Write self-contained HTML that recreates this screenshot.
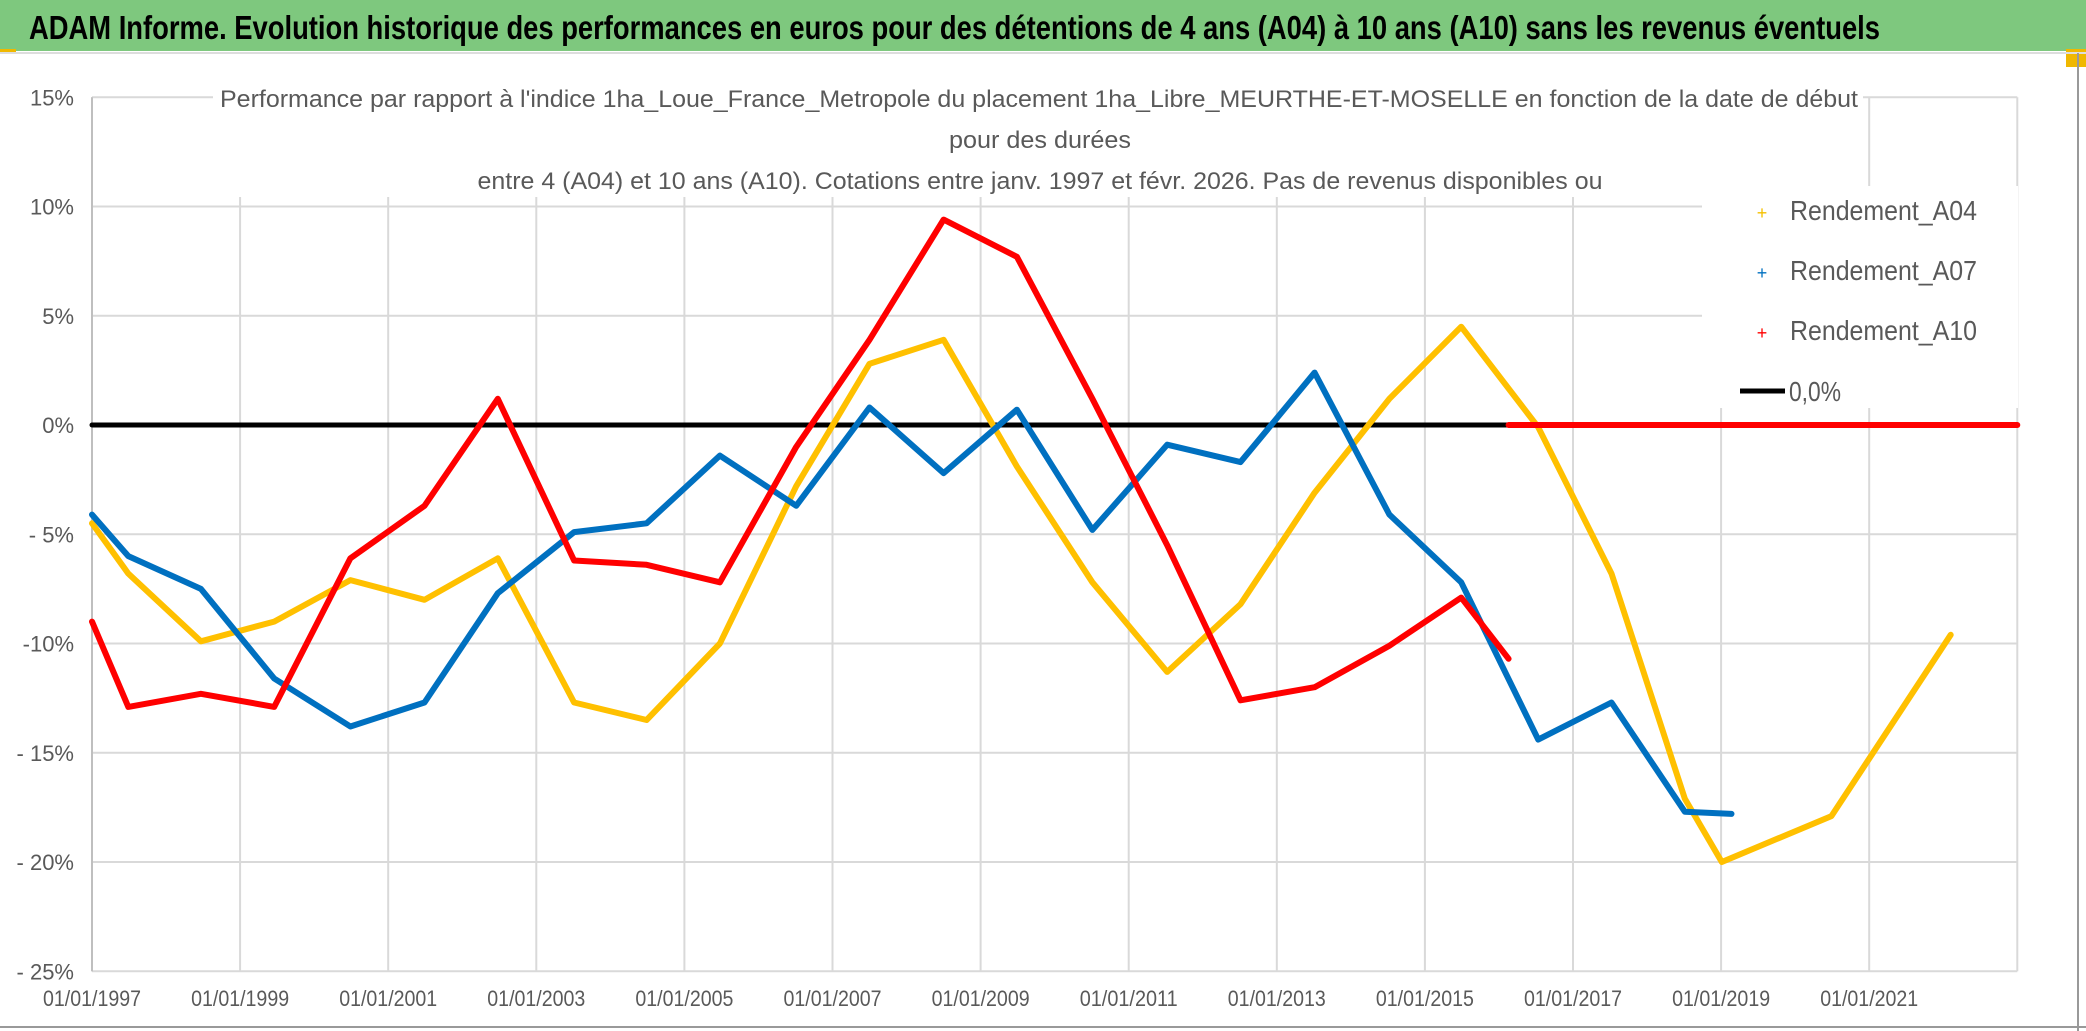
<!DOCTYPE html>
<html><head><meta charset="utf-8"><style>
html,body{margin:0;padding:0;background:#fff;}
svg{display:block;font-family:"Liberation Sans",sans-serif;}
</style></head><body>
<svg id="chart" width="2086" height="1031" viewBox="0 0 2086 1031" xmlns="http://www.w3.org/2000/svg">
<rect x="0" y="0" width="2086" height="1031" fill="#fff"/>
<rect x="0" y="0" width="2086" height="51" fill="#7ec87e"/>
<rect x="0" y="49" width="16" height="4" fill="#f0b800"/>
<rect x="2066" y="49" width="20" height="18" fill="#f0b800"/>
<line x1="0" y1="53" x2="2086" y2="53" stroke="#ddd" stroke-width="2"/>
<line x1="2078" y1="53" x2="2078" y2="1031" stroke="#999" stroke-width="2"/>
<line x1="0" y1="1027" x2="2086" y2="1027" stroke="#999" stroke-width="2"/>
<text x="29" y="39" font-size="33" font-weight="bold" fill="#000" textLength="1851" lengthAdjust="spacingAndGlyphs">ADAM Informe. Evolution historique des performances en euros pour des détentions de 4 ans (A04) à 10 ans (A10) sans les revenus éventuels</text>
<g id="grid"></g>
<rect x="213" y="75" width="1650" height="122" fill="#fff"/>
<rect x="1702" y="186" width="316" height="222" fill="#fff"/>
<g fill="#595959" font-size="24">
<text x="220" y="107" textLength="1638" lengthAdjust="spacingAndGlyphs">Performance par rapport à l'indice 1ha_Loue_France_Metropole  du placement 1ha_Libre_MEURTHE-ET-MOSELLE en fonction de la date de début</text>
<text x="1040" y="148" text-anchor="middle" textLength="182" lengthAdjust="spacingAndGlyphs">pour des durées</text>
<text x="1040" y="189" text-anchor="middle" textLength="1125" lengthAdjust="spacingAndGlyphs">entre 4 (A04) et 10 ans (A10). Cotations entre janv. 1997 et févr. 2026. Pas de revenus disponibles ou</text>
</g>
<g id="axes"></g>
<g id="series"></g>
<g font-size="28" fill="#595959">
<g><text x="1762" y="219" fill="#f5c000" font-size="18" text-anchor="middle">+</text><text x="1790" y="220" textLength="187" lengthAdjust="spacingAndGlyphs">Rendement_A04</text></g>
<g><text x="1762" y="279" fill="#0070c0" font-size="18" text-anchor="middle">+</text><text x="1790" y="280" textLength="187" lengthAdjust="spacingAndGlyphs">Rendement_A07</text></g>
<g><text x="1762" y="339" fill="#ff0000" font-size="18" text-anchor="middle">+</text><text x="1790" y="340" textLength="187" lengthAdjust="spacingAndGlyphs">Rendement_A10</text></g>
<g><line x1="1740" y1="391" x2="1785" y2="391" stroke="#000" stroke-width="5"/><text x="1789" y="401" textLength="52" lengthAdjust="spacingAndGlyphs">0,0%</text></g>
</g>
</svg>
<script>
const yTicks = [15, 10, 5, 0, -5, -10, -15, -20, -25];
const yTickLabels = ["15%", "10%", "5%", "0%", "- 5%", "-10%", "- 15%", "- 20%", "- 25%"];
const xTicks = [1997, 1999, 2001, 2003, 2005, 2007, 2009, 2011, 2013, 2015, 2017, 2019, 2021, 2023];
const xTickLabels = ["01/01/1997","01/01/1999","01/01/2001","01/01/2003","01/01/2005","01/01/2007","01/01/2009","01/01/2011","01/01/2013","01/01/2015","01/01/2017","01/01/2019","01/01/2021",""];
const a04Dates = [1997.0,1997.49,1998.47,1999.46,2000.49,2001.49,2002.48,2003.51,2004.49,2005.48,2006.51,2007.5,2008.5,2009.49,2010.51,2011.52,2012.51,2013.51,2014.52,2015.49,2016.53,2017.52,2018.51,2019.01,2020.49,2022.1];
const a04Values = [-4.5,-6.8,-9.9,-9.0,-7.1,-8.0,-6.1,-12.7,-13.5,-10.0,-2.8,2.8,3.9,-1.9,-7.2,-11.3,-8.2,-3.1,1.2,4.5,-0.1,-6.8,-17.1,-20.0,-17.9,-9.6];
const a07Dates = [1997.0,1997.49,1998.47,1999.46,2000.49,2001.49,2002.48,2003.51,2004.49,2005.48,2006.51,2007.5,2008.5,2009.49,2010.51,2011.52,2012.51,2013.51,2014.52,2015.49,2016.53,2017.52,2018.51,2019.14];
const a07Values = [-4.1,-6.0,-7.5,-11.6,-13.8,-12.7,-7.7,-4.9,-4.5,-1.4,-3.7,0.8,-2.2,0.7,-4.8,-0.9,-1.7,2.4,-4.1,-7.2,-14.4,-12.7,-17.7,-17.8];
const a10Dates = [1997.0,1997.49,1998.47,1999.46,2000.49,2001.49,2002.48,2003.51,2004.49,2005.48,2006.51,2007.5,2008.5,2009.49,2010.51,2011.52,2012.51,2013.51,2014.52,2015.49,2016.13];
const a10Values = [-9.0,-12.9,-12.3,-12.9,-6.1,-3.7,1.2,-6.2,-6.4,-7.2,-1.0,3.9,9.4,7.7,1.2,-5.5,-12.6,-12.0,-10.1,-7.9,-10.7];
const zeroTailDates = [2016.13, 2023.0];
const zeroTailValues = [0, 0];
const refLineDates = [1997.0, 2016.13];
const refLineValues = [0, 0];

const NS = "http://www.w3.org/2000/svg";
const X0 = 92, XPY = 74.05, Y0 = 425, YPP = 21.85;
function xs(d){ return X0 + (d - 1997) * XPY; }
function ys(v){ return Y0 - v * YPP; }
function mk(tag, attrs, parent){ const e = document.createElementNS(NS, tag); for (const k in attrs) e.setAttribute(k, attrs[k]); parent.appendChild(e); return e; }

const grid = document.getElementById('grid');
const axes = document.getElementById('axes');
const series = document.getElementById('series');
const xL = xs(1997), xR = xs(2023);

yTicks.forEach((v, i) => {
  const l = mk('line', {x1: xL, x2: xR, y1: ys(v), y2: ys(v), stroke: '#d9d9d9', 'stroke-width': 2}, grid);
  
  
  const t = mk('text', {x: 74, y: ys(v) + 8, 'text-anchor': 'end', 'font-size': 22, fill: '#595959'}, axes);
  t.textContent = yTickLabels[i];
  
  
});
xTicks.forEach((d, i) => {
  const l = mk('line', {x1: xs(d), x2: xs(d), y1: ys(15), y2: ys(-25), stroke: '#d9d9d9', 'stroke-width': 2}, grid);
  
  
  const t = mk('text', {x: xs(d), y: 1006, 'text-anchor': 'middle', 'font-size': 22, fill: '#595959', textLength: 98, lengthAdjust: 'spacingAndGlyphs'}, axes);
  t.textContent = xTickLabels[i];
  
  
});
const yAxis = mk('line', {x1: xL, x2: xL, y1: ys(15), y2: ys(-25), stroke: '#bfbfbf', 'stroke-width': 2}, axes);



function pts(ds, vs){ return ds.map((d, i) => xs(d).toFixed(1) + ',' + ys(vs[i]).toFixed(1)).join(' '); }
function line(ds, vs, color, w, name){
  const p = mk('polyline', {points: pts(ds, vs), fill: 'none', stroke: color, 'stroke-width': w, 'stroke-linejoin': 'round', 'stroke-linecap': 'round'}, series);
  
  
}
line(refLineDates, refLineValues, '#000', 5, 'zero-reference-line');
line(a04Dates, a04Values, '#ffc000', 6, 'series-a04');
line(a07Dates, a07Values, '#0070c0', 6, 'series-a07');
line(a10Dates, a10Values, '#ff0000', 6, 'series-a10');
line(zeroTailDates, zeroTailValues, '#ff0000', 6, 'series-a10-zero-tail');
</script>
</body></html>
